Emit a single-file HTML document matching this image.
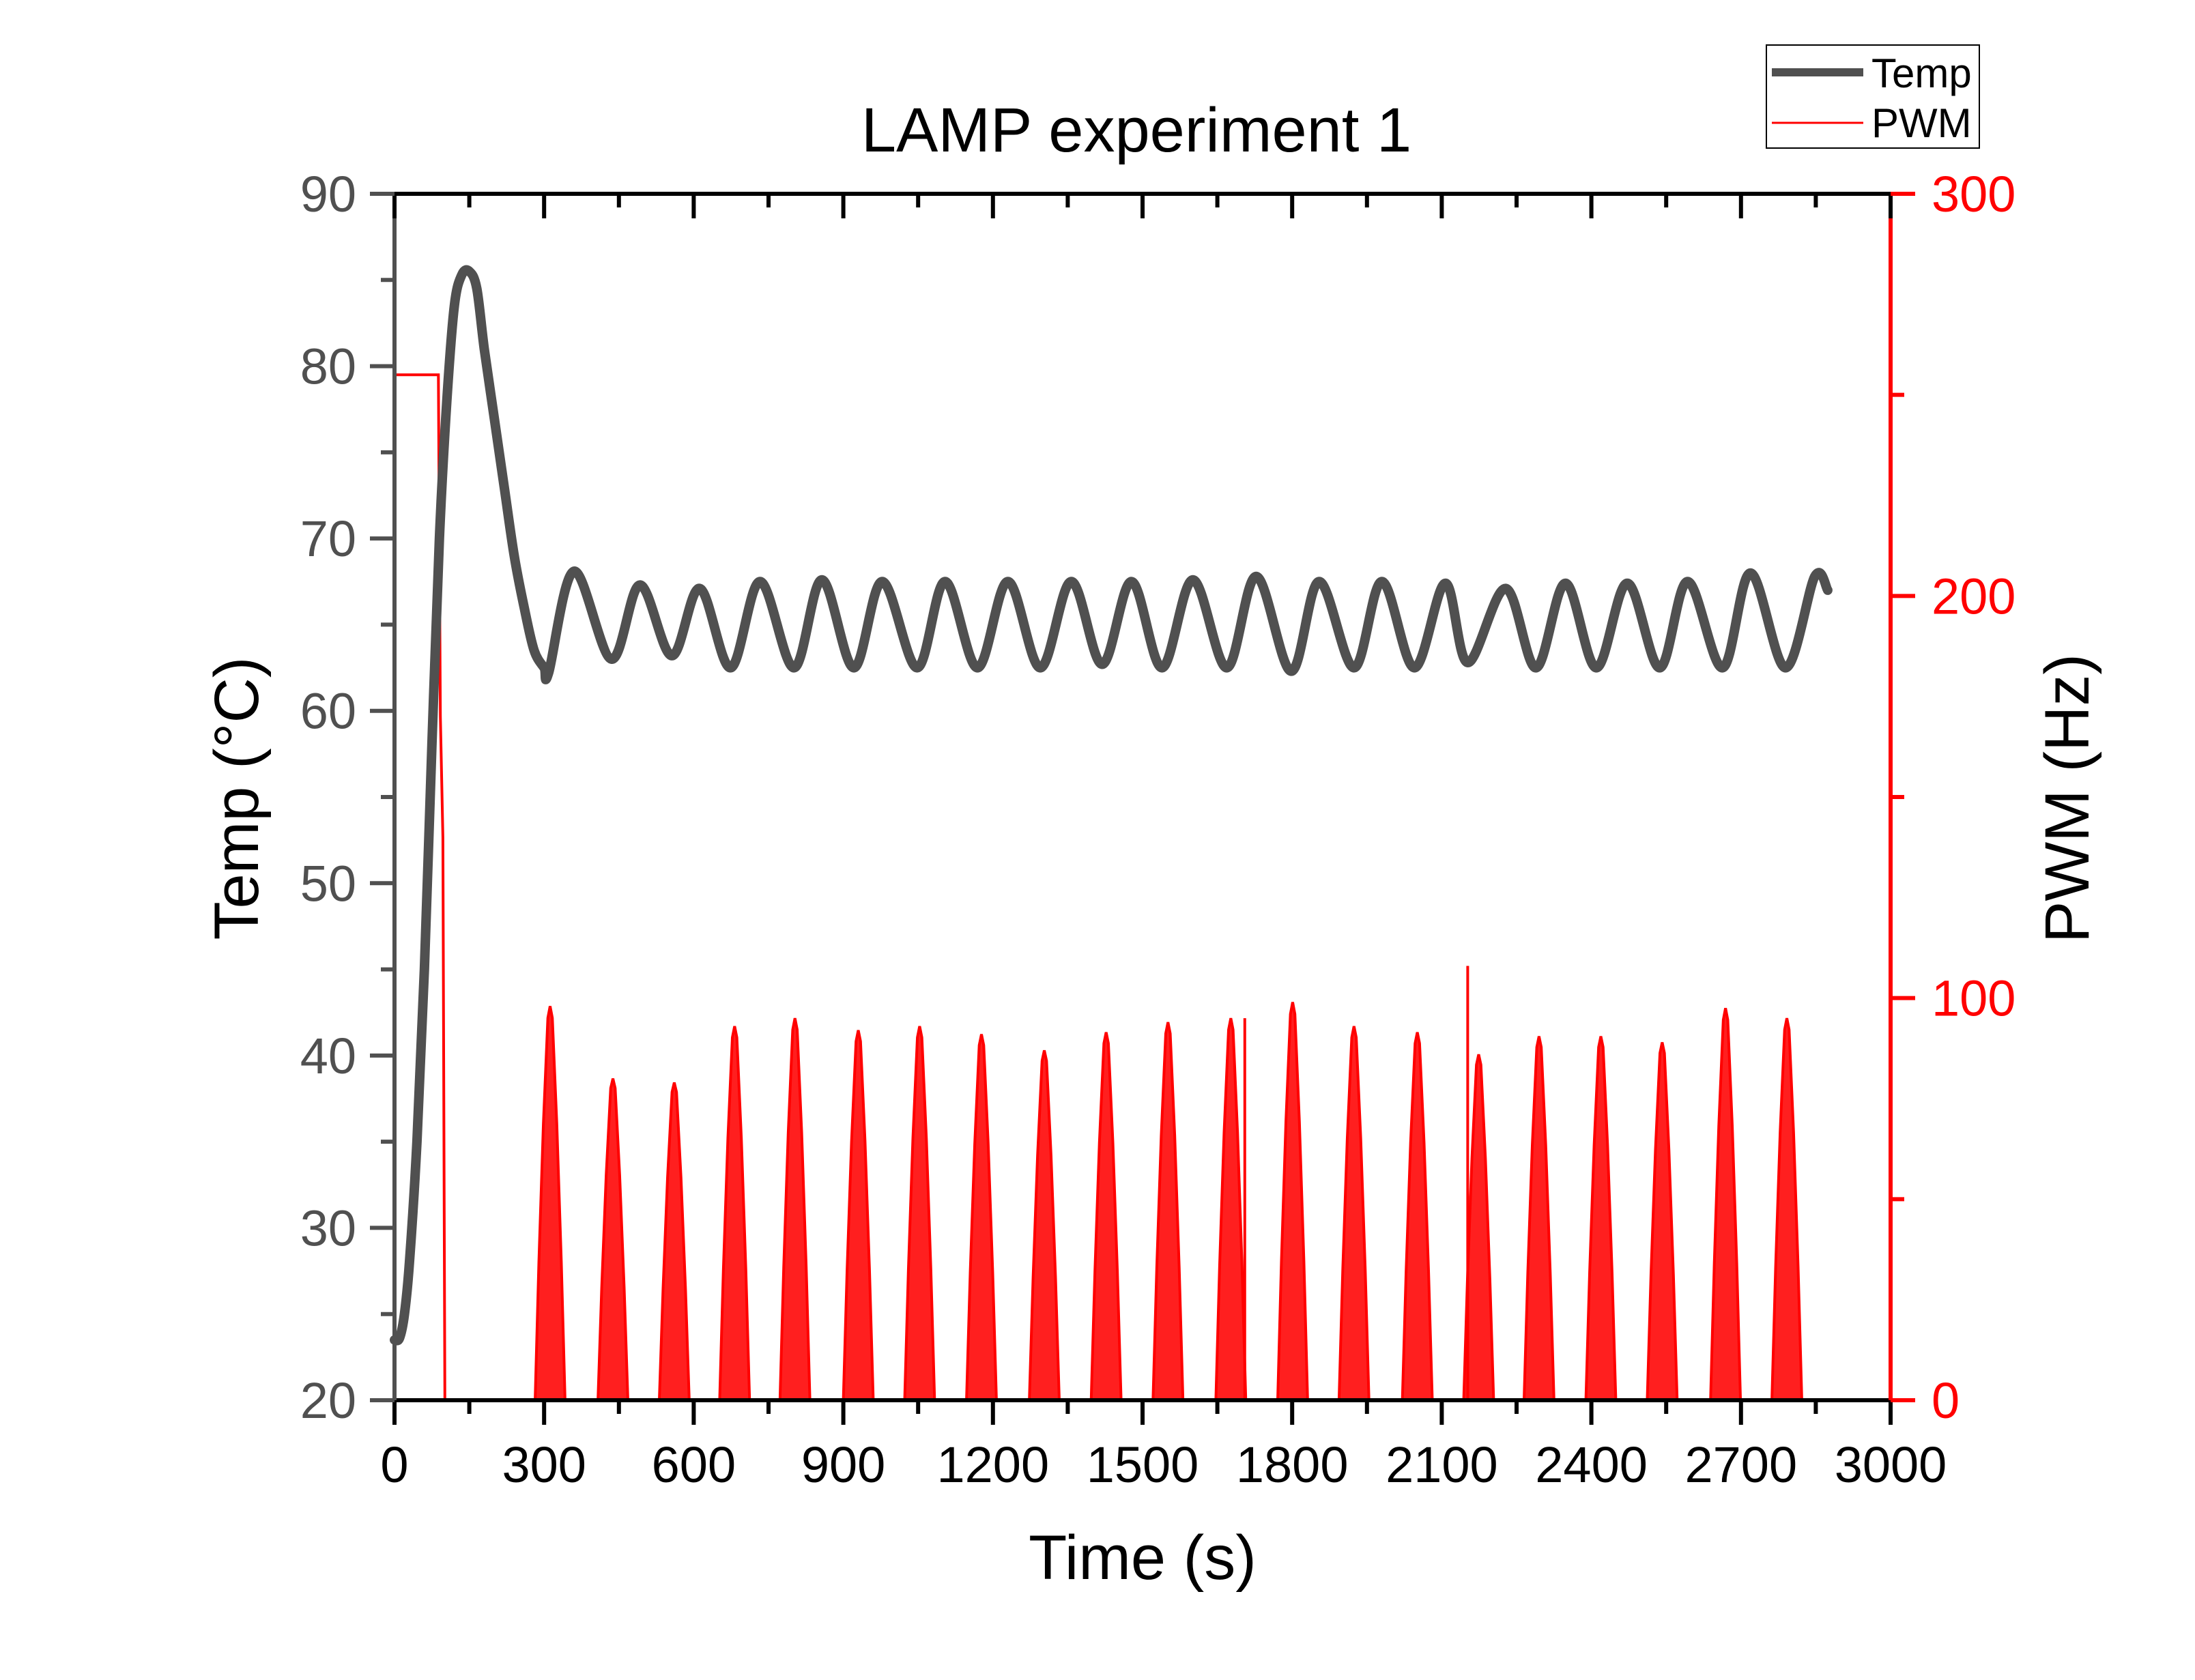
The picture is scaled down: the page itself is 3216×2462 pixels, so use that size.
<!DOCTYPE html>
<html><head><meta charset="utf-8"><title>LAMP experiment 1</title>
<style>
html,body{margin:0;padding:0;background:#fff;}
svg{display:block;font-family:"Liberation Sans",Arial,sans-serif;}
</style></head>
<body>
<svg id="chart" width="3216" height="2462" viewBox="0 0 3216 2462" xmlns="http://www.w3.org/2000/svg">
<rect width="3216" height="2462" fill="#fff"/>
<text x="1665" y="222" font-size="92" text-anchor="middle" fill="#000">LAMP experiment 1</text>
<g id="plot"></g>
<g id="axes"></g>
<text x="1674" y="2314" font-size="92" text-anchor="middle" fill="#000">Time (s)</text>
<text transform="translate(378,1170) rotate(-90)" font-size="92" text-anchor="middle" fill="#000">Temp (°C)</text>
<text transform="translate(3060,1170) rotate(-90)" font-size="92" text-anchor="middle" fill="#000">PWM (Hz)</text>
<g>
  <rect x="2588" y="66" width="312" height="151" fill="#fff" stroke="#000" stroke-width="2"/>
  <line x1="2596" y1="106" x2="2730" y2="106" stroke="#505050" stroke-width="12"/>
  <text x="2742" y="128" font-size="60" fill="#000">Temp</text>
  <line x1="2596" y1="180" x2="2730" y2="180" stroke="#ff0000" stroke-width="3"/>
  <text x="2742" y="201" font-size="60" fill="#000">PWM</text>
</g>
</svg>
<script>
// ---- data ----
const tempTimes = [0,10,20,30,45,60,75,90,105,120,135,150,165,180,200,220,240,260,280,300,
 309,360,435,492,556,612,674,733,801,857,921,978,1048,1104,1169,1230,1295,1357,1419,1478,1539,1601,1669,1728,1798,1854,1924,1980,2045,2107,2152,2228,2289,2348,2410,2472,2537,2593,2663,2719,2789,2848,2874];
const tempValues = [23.5,23.6,25,28,35,45,58,70,78,83.5,85.3,85.5,84.5,81,77,73,69,66,63.5,62.5,
 62.2,68.1,63,67.3,63.2,67.1,62.5,67.5,62.5,67.6,62.5,67.5,62.5,67.5,62.5,67.5,62.5,67.5,62.7,67.5,62.5,67.6,62.5,67.8,62.3,67.5,62.5,67.5,62.5,67.4,62.8,67.1,62.5,67.4,62.5,67.4,62.5,67.5,62.5,68,62.5,67.8,67];
const pwmStepTimes = [0,88,92,97,101,310];
const pwmStepValues = [255,255,170,140,0,0];
const burstCenters = [312,438,561,682,803,930,1053,1177,1303,1427,1551,1677,1801,1924,2051,2174,2295,2419,2542,2669,2792];
const burstPeaks = [98,80,79,93,95,92,93,91,87,91.5,94,95,99,93,91.5,86,90.5,90.5,89,97.5,95];
const burstHalfWidth = 30;
const spikeTimes = [2152,1705];
const spikeValues = [108,95];
const xTicks = [0,300,600,900,1200,1500,1800,2100,2400,2700,3000];
const yLeftTicks = [20,30,40,50,60,70,80,90];
const yRightTicks = [0,100,200,300];

// ---- geometry ----
const X0=578,X1=2770,Y0=284,Y1=2052;
const xs=t=>X0+(t/3000)*(X1-X0);
const yl=v=>Y1-((v-20)/70)*(Y1-Y0);
const yr=v=>Y1-(v/300)*(Y1-Y0);
const NS="http://www.w3.org/2000/svg";
const plot=document.getElementById('plot');
const axes=document.getElementById('axes');
function mk(tag,attrs,parent){const e=document.createElementNS(NS,tag);for(const k in attrs)e.setAttribute(k,attrs[k]);parent.appendChild(e);return e;}

// PWM initial step
let d='';
pwmStepTimes.forEach((t,i)=>{d+=(i?'L':'M')+xs(t).toFixed(1)+','+yr(pwmStepValues[i]).toFixed(1);});
const step=mk('path',{d:d,fill:'none',stroke:'#ff0000','stroke-width':4},plot);



// PWM bursts
burstCenters.forEach((c,i)=>{
  const p=burstPeaks[i],w=burstHalfWidth;
  let bd='M'+xs(c-w)+','+yr(0);
  bd+='L'+xs(c-w*0.75)+','+yr(p*0.35)+'L'+xs(c-w*0.45)+','+yr(p*0.7)+'L'+xs(c-w*0.15)+','+yr(p*0.97);
  bd+='L'+xs(c)+','+yr(p)+'L'+xs(c+w*0.15)+','+yr(p*0.97)+'L'+xs(c+w*0.45)+','+yr(p*0.7);
  bd+='L'+xs(c+w*0.75)+','+yr(p*0.35)+'L'+xs(c+w)+','+yr(0)+'Z';
  const b=mk('path',{d:bd,fill:'#ff0000','fill-opacity':0.88,stroke:'#ff0000','stroke-width':4},plot);
  
  
});
spikeTimes.forEach((t,i)=>{
  const s=mk('line',{x1:xs(t),y1:yr(0),x2:xs(t),y2:yr(spikeValues[i]),stroke:'#ff0000','stroke-width':4},plot);
  
  
});

// Temp curve (Catmull-Rom)
const pts=tempTimes.map((t,i)=>[xs(t),yl(tempValues[i])]);
let td='M'+pts[0][0]+','+pts[0][1];
for(let i=0;i<pts.length-1;i++){
  const p0=pts[Math.max(0,i-1)],p1=pts[i],p2=pts[i+1],p3=pts[Math.min(pts.length-1,i+2)];
  const c1=[p1[0]+(p2[0]-p0[0])/6,p1[1]+(p2[1]-p0[1])/6];
  const c2=[p2[0]-(p3[0]-p1[0])/6,p2[1]-(p3[1]-p1[1])/6];
  td+='C'+c1[0].toFixed(1)+','+c1[1].toFixed(1)+' '+c2[0].toFixed(1)+','+c2[1].toFixed(1)+' '+p2[0].toFixed(1)+','+p2[1].toFixed(1);
}
const tl=mk('path',{d:td,fill:'none',stroke:'#505050','stroke-width':14,'stroke-linejoin':'round','stroke-linecap':'round'},plot);



// Axes lines
const ab=mk('line',{x1:X0-3,y1:Y1,x2:X1,y2:Y1,stroke:'#000','stroke-width':6},axes);


const at=mk('line',{x1:X0-3,y1:Y0,x2:X1,y2:Y0,stroke:'#000','stroke-width':6},axes);


const al=mk('line',{x1:X0,y1:Y0,x2:X0,y2:Y1,stroke:'#505050','stroke-width':6},axes);


const ar=mk('line',{x1:X1,y1:Y0,x2:X1,y2:Y1+3,stroke:'#ff0000','stroke-width':6},axes);



// X ticks
xTicks.forEach((v,i)=>{
  const x=xs(v);
  const t1=mk('line',{x1:x,y1:Y1,x2:x,y2:Y1+36,stroke:'#000','stroke-width':6},axes);
  
  
  const t2=mk('line',{x1:x,y1:Y0,x2:x,y2:Y0+36,stroke:'#000','stroke-width':6},axes);
  
  
  if(i<xTicks.length-1){
    const xm=xs(v+150);
    const m1=mk('line',{x1:xm,y1:Y1,x2:xm,y2:Y1+20,stroke:'#000','stroke-width':6},axes);
    
    
    const m2=mk('line',{x1:xm,y1:Y0,x2:xm,y2:Y0+20,stroke:'#000','stroke-width':6},axes);
    
    
  }
  const lb=mk('text',{x:x,y:2172,'font-size':74,'text-anchor':'middle',fill:'#000'},axes);
  lb.textContent=v;
  
  
});
// Left ticks
yLeftTicks.forEach((v,i)=>{
  const y=yl(v);
  const t=mk('line',{x1:X0-36,y1:y,x2:X0,y2:y,stroke:'#505050','stroke-width':6},axes);
  
  
  if(i<yLeftTicks.length-1){
    const ym=yl(v+5);
    const m=mk('line',{x1:X0-20,y1:ym,x2:X0,y2:ym,stroke:'#505050','stroke-width':6},axes);
    
    
  }
  const lb=mk('text',{x:522,y:y+26,'font-size':74,'text-anchor':'end',fill:'#505050'},axes);
  lb.textContent=v;
  
  
});
// Right ticks
yRightTicks.forEach((v,i)=>{
  const y=yr(v);
  const t=mk('line',{x1:X1,y1:y,x2:X1+36,y2:y,stroke:'#ff0000','stroke-width':6},axes);
  
  
  if(i<yRightTicks.length-1){
    const ym=yr(v+50);
    const m=mk('line',{x1:X1,y1:ym,x2:X1+20,y2:ym,stroke:'#ff0000','stroke-width':6},axes);
    
    
  }
  const lb=mk('text',{x:2830,y:y+26,'font-size':74,'text-anchor':'start',fill:'#ff0000'},axes);
  lb.textContent=v;
  
  
});
</script>
</body></html>
